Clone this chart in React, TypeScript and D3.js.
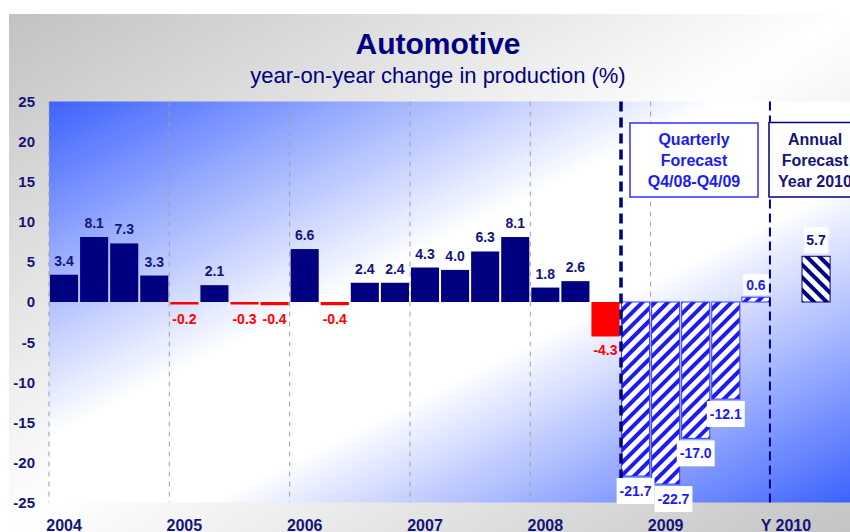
import React from "react";
import * as d3 from "d3";

// ---- data ----
const histQuarters = [
  "Q1/04", "Q2/04", "Q3/04", "Q4/04",
  "Q1/05", "Q2/05", "Q3/05", "Q4/05",
  "Q1/06", "Q2/06", "Q3/06", "Q4/06",
  "Q1/07", "Q2/07", "Q3/07", "Q4/07",
  "Q1/08", "Q2/08", "Q3/08",
];
const histValues = [
  3.4, 8.1, 7.3, 3.3,
  -0.2, 2.1, -0.3, -0.4,
  6.6, -0.4, 2.4, 2.4,
  4.3, 4.0, 6.3, 8.1,
  1.8, 2.6, -4.3,
];
const forecastQuarters = ["Q4/08", "Q1/09", "Q2/09", "Q3/09", "Q4/09"];
const forecastValues = [-21.7, -22.7, -17.0, -12.1, 0.6];
const annualCategories = ["2010"];
const annualValues = [5.7];
const yearLabels = ["2004", "2005", "2006", "2007", "2008", "2009", "Y 2010"];
const yTicks = [25, 20, 15, 10, 5, 0, -5, -10, -15, -20, -25];
const title = "Automotive";
const subtitle = "year-on-year change in production (%)";
const quarterlyBoxLines = ["Quarterly", "Forecast", "Q4/08-Q4/09"];
const annualBoxLines = ["Annual", "Forecast", "Year 2010"];

// ---- layout ----
const W = 850, H = 532;
const plotL = 49, plotR = 850, plotT = 101.5, plotB = 502.5;
const FONT = "'Liberation Sans', Arial, Helvetica, sans-serif";
const NAVY = "#000080";
const LABEL_NAVY = "#14147a";
const BLUE = "#1c1cf0";

const slot = d3.scaleLinear().domain([0, 20]).range([plotL, 650.6]);
const y = d3.scaleLinear().domain([-25, 25]).range([plotB, plotT]);
const slotW = slot(1) - slot(0);

const histStart = 0;
const fcStart = histQuarters.length; // 19
const annualSlot = fcStart + forecastQuarters.length + 1; // 25
const yearSlots = [0, 4, 8, 12, 16, 20, 24];

// approx Arial Bold width
const bw: Record<string, number> = { "-": 0.333, ".": 0.278 };
function textW(s: string, size: number) {
  let w = 0;
  for (const c of s) w += bw[c] ?? 0.556;
  return w * size;
}

export default function App() {
  const barX = (i: number) => slot(i) + 1;
  const barW = slotW - 2;
  const y0 = y(0);

  // forecast label boxes with simple collision avoidance
  const fcLabels: { x: number; y: number; w: number; h: number; text: string }[] = [];
  forecastValues.forEach((v, k) => {
    const i = fcStart + k;
    const text = v.toFixed(1);
    const w = textW(text, 14) + 6;
    const h = v < 0 ? 26 : 21;
    let x = slot(i) + slotW / 2 - w / 2;
    const top = v < 0 ? y(v) + 2 : y(v) - 2 - h;
    const prev = fcLabels[fcLabels.length - 1];
    if (prev && x < prev.x + prev.w && top < prev.y + prev.h && top + h > prev.y) {
      x = prev.x + prev.w;
    }
    fcLabels.push({ x, y: top, w, h, text });
  });

  return (
    <svg
      width={W}
      height={H}
      style={{ position: "absolute", left: 0, top: 0, display: "block" }}
      fontFamily={FONT}
    >
      <defs>
        <linearGradient id="outerG" x1="0" y1="0" x2="1" y2="1">
          <stop offset="0" stopColor="#c2c2c2" />
          <stop offset="0.5" stopColor="#ffffff" />
          <stop offset="1" stopColor="#c4c4c4" />
        </linearGradient>
        <linearGradient id="plotG" x1="0" y1="0" x2="1" y2="1">
          <stop offset="0" stopColor="#3d62ff" />
          <stop offset="0.42" stopColor="#ffffff" />
          <stop offset="0.6" stopColor="#ffffff" />
          <stop offset="1" stopColor="#3d62ff" />
        </linearGradient>
        <pattern id="hatchBlue" patternUnits="userSpaceOnUse" width="9" height="9" patternTransform="rotate(45)">
          <rect width="9" height="9" fill="#ffffff" />
          <rect width="4" height="9" fill={BLUE} />
        </pattern>
        <pattern id="hatchNavy" patternUnits="userSpaceOnUse" width="9" height="9" patternTransform="rotate(-45)">
          <rect width="9" height="9" fill="#ffffff" />
          <rect width="4" height="9" fill={NAVY} />
        </pattern>
      </defs>

      <rect x={0} y={0} width={W} height={H} fill="#ffffff" />
      <rect x={9} y={14} width={W - 9} height={H - 14} fill="url(#outerG)" />
      <rect x={plotL} y={plotT} width={plotR - plotL} height={plotB - plotT} fill="url(#plotG)" />

      {/* titles */}
      <text x={438} y={54} textAnchor="middle" fontSize={30} fontWeight="bold" fill={NAVY}>{title}</text>
      <text x={438} y={83} textAnchor="middle" fontSize={22} fill={NAVY}>{subtitle}</text>

      {/* y tick labels */}
      {yTicks.map((t) => (
        <text key={t} x={35} y={y(t)} dy="0.36em" textAnchor="end" fontSize={15} fontWeight="bold" fill={LABEL_NAVY}>{t}</text>
      ))}

      {/* year gridlines */}
      {yearSlots.slice(0, 6).map((s) => (
        <line key={s} x1={slot(s)} x2={slot(s)} y1={plotT} y2={plotB} stroke="#a0a0a0" strokeWidth={1} strokeDasharray="5,5" />
      ))}

      {/* historical bars */}
      {histValues.map((v, k) => {
        const i = histStart + k;
        const top = v >= 0 ? y(v) : y0;
        const h = Math.max(Math.abs(y(v) - y0), 2.5);
        return <rect key={histQuarters[k]} x={barX(i)} y={top} width={barW} height={h} fill={v >= 0 ? NAVY : "#ff0000"} />;
      })}
      {histValues.map((v, k) => {
        const i = histStart + k;
        const cx = slot(i) + slotW / 2;
        const ly = v >= 0 ? y(v) - 9 : Math.max(y(v), y0 + 2.5) + 19;
        return (
          <text key={"l" + k} x={cx} y={ly} textAnchor="middle" fontSize={14} fontWeight="bold" fill={v >= 0 ? LABEL_NAVY : "#ff0000"}>
            {v.toFixed(1)}
          </text>
        );
      })}

      {/* quarterly forecast bars */}
      {forecastValues.map((v, k) => {
        const i = fcStart + k;
        const top = Math.min(y(v), y0);
        const h = Math.abs(y(v) - y0);
        return <rect key={forecastQuarters[k]} x={barX(i)} y={top} width={barW} height={h} fill="url(#hatchBlue)" stroke="#3a3aff" strokeWidth={1} />;
      })}

      {/* annual forecast bar */}
      {annualValues.map((v, k) => {
        const top = Math.min(y(v), y0);
        const h = Math.abs(y(v) - y0);
        return <rect key={annualCategories[k]} x={barX(annualSlot + k)} y={top} width={barW} height={h} fill="url(#hatchNavy)" stroke={NAVY} strokeWidth={1} />;
      })}

      {/* divider lines */}
      <line x1={slot(fcStart) + 0.5} x2={slot(fcStart) + 0.5} y1={plotT} y2={plotB} stroke={NAVY} strokeWidth={3.5} strokeDasharray="10,6" />
      <line x1={slot(24) - 1} x2={slot(24) - 1} y1={plotT} y2={plotB} stroke={NAVY} strokeWidth={2} strokeDasharray="9,5" />

      {/* forecast labels */}
      {fcLabels.map((l) => (
        <g key={l.text}>
          <rect x={l.x} y={l.y} width={l.w} height={l.h} fill="#ffffff" />
          <text x={l.x + l.w / 2} y={l.y + l.h / 2} dy="0.36em" textAnchor="middle" fontSize={14} fontWeight="bold" fill={BLUE}>{l.text}</text>
        </g>
      ))}
      {annualValues.map((v, k) => {
        const text = v.toFixed(1);
        const w = textW(text, 14) + 5;
        const h = 26;
        const cx = slot(annualSlot + k) + slotW / 2;
        const top = y(v) - 3 - h;
        return (
          <g key={"al" + k}>
            <rect x={cx - w / 2} y={top} width={w} height={h} fill="#ffffff" />
            <text x={cx} y={top + h / 2} dy="0.36em" textAnchor="middle" fontSize={14} fontWeight="bold" fill={LABEL_NAVY}>{text}</text>
          </g>
        );
      })}

      {/* forecast boxes */}
      <rect x={630} y={123} width={128} height={74} fill="#ffffff" stroke="#3030ff" strokeWidth={1.5} />
      {quarterlyBoxLines.map((s, j) => (
        <text key={s} x={694} y={145 + j * 21} textAnchor="middle" fontSize={16} fontWeight="bold" fill={BLUE}>{s}</text>
      ))}
      <rect x={769} y={122.5} width={100} height={74.5} fill="#ffffff" stroke={NAVY} strokeWidth={1.5} />
      {annualBoxLines.map((s, j) => (
        <text key={s} x={815} y={145 + j * 21} textAnchor="middle" fontSize={16} fontWeight="bold" fill={LABEL_NAVY}>{s}</text>
      ))}

      {/* year labels */}
      {yearLabels.map((s, j) => (
        <text key={s} x={slot(yearSlots[j]) + slotW / 2} y={531} textAnchor="middle" fontSize={16} fontWeight="bold" fill={LABEL_NAVY}>{s}</text>
      ))}
    </svg>
  );
}
